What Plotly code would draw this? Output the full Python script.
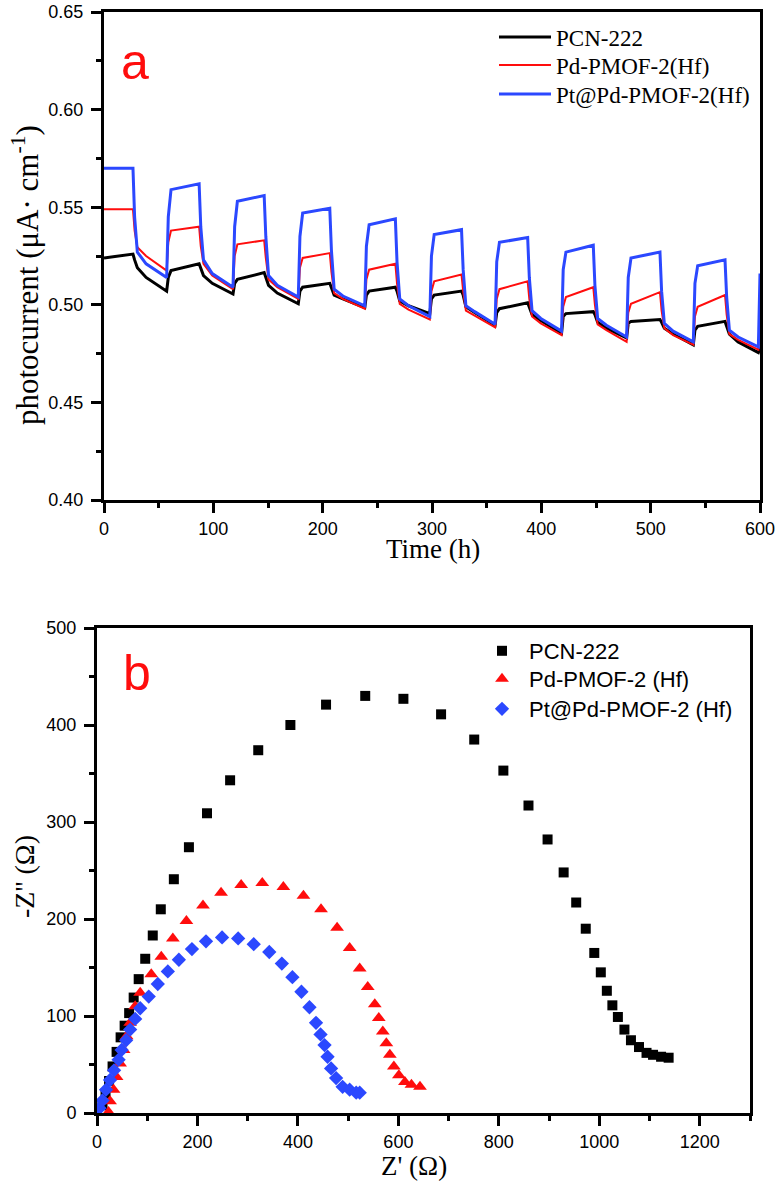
import plotly.graph_objects as go

# ---------------- Panel a: photocurrent vs time ----------------
time_h = [0, 26.5, 28, 30.5, 38.5, 57.3, 58.8, 61.3, 87, 88.5, 91, 99,
          118, 119.5, 122, 146.5, 148, 150.5, 158.5, 177.7, 179.2, 181.7, 206.5,
          208, 210.5, 218.5, 238.5, 240, 242.5, 266.5, 268, 270.5, 278.5,
          298, 299.5, 302, 327, 328.5, 331, 339, 357.7, 359.2, 361.7, 387.5,
          389, 391.5, 399.5, 418.5, 420, 422.5, 447.5, 449, 451.5, 459.5,
          478, 479.5, 482, 508.5, 510, 512.5, 520.5, 539, 540.5, 543, 568,
          569.5, 572, 580, 598.5, 599.5, 600]

pcn222_current = [0.524, 0.526,
                  0.523, 0.519, 0.514,
                  0.507, 0.514, 0.5175, 0.521,
                  0.519, 0.515, 0.511,
                  0.5055, 0.511, 0.513, 0.5165,
                  0.514, 0.510, 0.506,
                  0.5005, 0.507, 0.509, 0.511,
                  0.509, 0.505, 0.503,
                  0.4985, 0.505, 0.507, 0.509,
                  0.507, 0.502, 0.4995,
                  0.4955, 0.503, 0.505, 0.507,
                  0.505, 0.499, 0.496,
                  0.4895, 0.496, 0.498, 0.501,
                  0.499, 0.495, 0.492,
                  0.4855, 0.494, 0.4955, 0.4965,
                  0.495, 0.491, 0.488,
                  0.483, 0.4905, 0.4915, 0.4925,
                  0.491, 0.488, 0.485,
                  0.4795, 0.487, 0.489, 0.4915,
                  0.489, 0.485, 0.481,
                  0.4755, 0.477, 0.478]

pd_pmof_current = [0.549, 0.549,
                   0.538, 0.5295, 0.525,
                   0.5175, 0.532, 0.538, 0.540,
                   0.530, 0.521, 0.515,
                   0.508, 0.525, 0.531, 0.533,
                   0.524, 0.513, 0.509,
                   0.503, 0.519, 0.524, 0.5265,
                   0.517, 0.506, 0.503,
                   0.498, 0.513, 0.518, 0.521,
                   0.511, 0.5005, 0.4975,
                   0.4925, 0.507, 0.512, 0.5155,
                   0.507, 0.497, 0.4945,
                   0.4885, 0.503, 0.508, 0.512,
                   0.503, 0.494, 0.4905,
                   0.4845, 0.499, 0.504, 0.509,
                   0.500, 0.490, 0.487,
                   0.481, 0.496, 0.5005, 0.5065,
                   0.497, 0.488, 0.4845,
                   0.4795, 0.494, 0.499, 0.505,
                   0.495, 0.485, 0.482,
                   0.477, 0.489, 0.497]

pt_pd_pmof_current = [0.570, 0.570,
                      0.545, 0.527, 0.521,
                      0.514, 0.545, 0.559, 0.562,
                      0.540, 0.523, 0.516,
                      0.509, 0.540, 0.553, 0.556,
                      0.535, 0.515, 0.510,
                      0.504, 0.535, 0.547, 0.5495,
                      0.528, 0.508, 0.5045,
                      0.4995, 0.530, 0.541, 0.544,
                      0.522, 0.503, 0.4995,
                      0.494, 0.525, 0.536, 0.5385,
                      0.518, 0.4995, 0.4965,
                      0.490, 0.522, 0.532, 0.5345,
                      0.514, 0.497, 0.493,
                      0.4865, 0.518, 0.527, 0.5305,
                      0.510, 0.493, 0.4895,
                      0.4835, 0.514, 0.524, 0.527,
                      0.507, 0.4905, 0.4865,
                      0.481, 0.511, 0.520, 0.523,
                      0.504, 0.487, 0.4835,
                      0.4785, 0.500, 0.516]

series_a_names = ["PCN-222", "Pd-PMOF-2(Hf)", "Pt@Pd-PMOF-2(Hf)"]

# ---------------- Panel b: Nyquist plots ----------------
pcn222_zre = [11, 17, 24, 31, 39, 47, 55, 64, 73, 83, 96, 111, 127, 153, 183,
              219, 265, 321, 385, 456, 534, 610, 685, 751, 809, 859, 897, 929,
              954, 973, 990, 1003, 1015, 1026, 1037, 1050, 1063, 1079, 1094,
              1107, 1123, 1138]
pcn222_zim = [8, 20, 33, 48, 63, 78, 90, 103, 119, 138, 159, 183, 210, 241,
              274, 309, 343, 374, 400, 421, 430, 427, 411, 385, 353, 317, 282,
              248, 217, 190, 165, 145, 126, 111, 99, 86, 75, 68, 62, 60, 58, 57]

pd_pmof_zre = [23, 26, 33, 39, 46, 53, 59, 66, 76, 86, 108, 128, 151, 178, 211,
               247, 287, 329, 371, 411, 446, 478, 503, 523, 539, 553, 561, 569,
               576, 583, 591, 601, 613, 626, 643]
pd_pmof_zim = [1, 12, 24, 37, 51, 65, 79, 93, 110, 124, 143, 161, 180, 198, 214,
               227, 235, 237, 233, 224, 210, 191, 170, 149, 130, 112, 98, 84,
               72, 60, 48, 39, 32, 29, 27]

pt_pd_pmof_zre = [5, 11, 18, 26, 34, 43, 49, 58, 66, 76, 86, 103, 121, 141, 163,
                  189, 217, 249, 281, 312, 343, 368, 389, 407, 423, 436, 445,
                  453, 459, 466, 476, 489, 503, 516, 523]
pt_pd_pmof_zim = [5, 13, 24, 34, 44, 55, 65, 75, 86, 97, 108, 120, 133, 146, 158,
                  169, 177, 181, 180, 174, 166, 154, 140, 125, 109, 93, 81, 70,
                  58, 46, 36, 27, 24, 21, 21]

series_b_names = ["PCN-222", "Pd-PMOF-2 (Hf)", "Pt@Pd-PMOF-2 (Hf)"]

# ---------------- styling ----------------
W, H = 779, 1183
BLACK, RED, BLUE = "#000000", "#ff0d0d", "#2b48ff"
SERIF = "Liberation Serif, Times New Roman, serif"
SANS = "Liberation Sans, Arial, sans-serif"


def fx(p):
    return p / W


def fy(p):
    return 1 - p / H


fig = go.Figure()

legend_a_ids = ["legend", "legend2", "legend3"]
legend_b_ids = ["legend4", "legend5", "legend6"]

for name, vals, col, wdt, lg in zip(series_a_names,
                                    [pcn222_current, pd_pmof_current, pt_pd_pmof_current],
                                    [BLACK, RED, BLUE], [3, 2, 3], legend_a_ids):
    fig.add_trace(go.Scatter(x=time_h, y=vals, mode="lines", name=name,
                             line=dict(color=col, width=wdt),
                             xaxis="x", yaxis="y", legend=lg))

for name, xs, ys, col, sym, sz, lg in zip(series_b_names,
                                          [pcn222_zre, pd_pmof_zre, pt_pd_pmof_zre],
                                          [pcn222_zim, pd_pmof_zim, pt_pd_pmof_zim],
                                          [BLACK, RED, BLUE],
                                          ["square", "triangle-up", "diamond"],
                                          [10, 12, 11], legend_b_ids):
    fig.add_trace(go.Scatter(x=xs, y=ys, mode="markers", name=name,
                             marker=dict(color=col, symbol=sym, size=sz,
                                         line=dict(width=0)),
                             xaxis="x2", yaxis="y2", legend=lg))

axis_common = dict(showline=True, linewidth=3, linecolor="black", mirror=True,
                   ticks="outside", ticklen=10, tickwidth=3, tickcolor="black",
                   showgrid=False, zeroline=False, automargin=False,
                   ticklabeloverflow="allow",
                   tickfont=dict(family=SANS, size=18, color="black"))


def minor(d, t0):
    return dict(ticks="outside", ticklen=5, tickwidth=3, tickcolor="black",
                dtick=d, tick0=t0, showgrid=False)


layout = dict(
    width=W, height=H,
    margin=dict(l=0, r=0, t=0, b=0, pad=0, autoexpand=False),
    paper_bgcolor="white", plot_bgcolor="white",
    xaxis=dict(domain=[fx(104), fx(760)], range=[0, 600], dtick=100, tick0=0,
               anchor="y", minor=minor(50, 0), **axis_common),
    yaxis=dict(domain=[fy(500), fy(12)], range=[0.40, 0.65], dtick=0.05,
               tick0=0.40, tickformat=".2f", anchor="x", ticklabelstandoff=4,
               minor=minor(0.025, 0.40), **axis_common),
    xaxis2=dict(domain=[fx(97), fx(750)], range=[0, 1300], dtick=200, tick0=0,
                anchor="y2", minor=minor(100, 0), **axis_common),
    yaxis2=dict(domain=[fy(1113), fy(628)], range=[0, 500], dtick=100, tick0=0,
                anchor="x2", ticklabelstandoff=4, minor=minor(50, 0), **axis_common),
    showlegend=True,
)

# one legend box per entry so each row can sit where the reference puts it
legend_a_rows = [37, 65, 94]
legend_b_rows = [651, 679, 709]
for lg, row in zip(legend_a_ids, legend_a_rows):
    layout[lg] = dict(x=fx(494), y=fy(row), xanchor="left", yanchor="middle",
                      font=dict(family=SERIF, size=23, color="black"),
                      bgcolor="rgba(0,0,0,0)", itemwidth=52, borderwidth=0)
for lg, row in zip(legend_b_ids, legend_b_rows):
    layout[lg] = dict(x=fx(475), y=fy(row), xanchor="left", yanchor="middle",
                      font=dict(family=SANS, size=22, color="black"),
                      bgcolor="rgba(0,0,0,0)", itemwidth=44, borderwidth=0)

fig.update_layout(**layout)

annotations = [
    dict(text="a", x=fx(135), y=fy(62), font=dict(family=SANS, size=50, color=RED)),
    dict(text="b", x=fx(137), y=fy(673), font=dict(family=SANS, size=50, color=RED)),
    dict(text="Time (h)", x=fx(433), y=fy(549), font=dict(family=SERIF, size=27, color="black")),
    dict(text="photocurrent (μA· cm<sup>-1</sup>)", x=fx(25), y=fy(275), textangle=-90,
         font=dict(family=SERIF, size=31, color="black")),
    dict(text="Z' (Ω)", x=fx(414), y=fy(1166), font=dict(family=SERIF, size=27, color="black")),
    dict(text="-Z'' (Ω)", x=fx(24), y=fy(877), textangle=-90,
         font=dict(family=SERIF, size=28, color="black")),
]
for a in annotations:
    a.update(xref="paper", yref="paper", showarrow=False, xanchor="center", yanchor="middle")
fig.update_layout(annotations=annotations)

# remove the browser's default 8 px page margin so the figure sits at (0, 0)
fig.write_html("out.html", config={"displayModeBar": False},
               post_script="document.body.style.margin = '0';")
